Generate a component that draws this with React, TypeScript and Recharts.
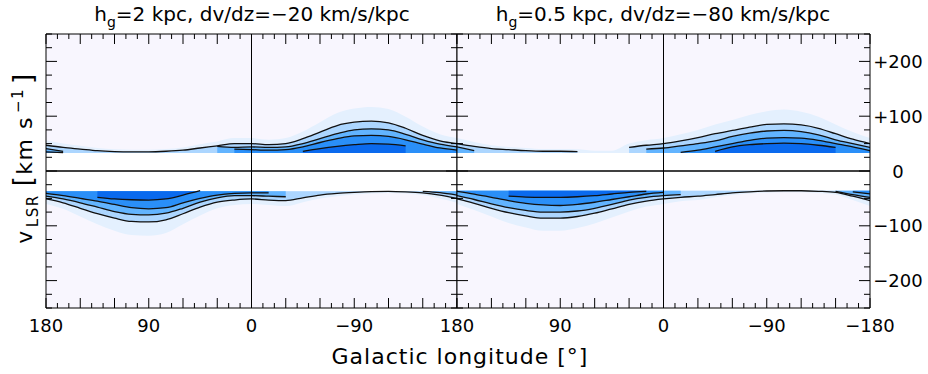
import React from 'react';
import { ComposedChart, Area, Line, XAxis, YAxis, ReferenceLine, ReferenceArea } from 'recharts';

const FONT = '"DejaVu Sans", sans-serif';

// Galactic longitude samples (deg)
const LON = [180, 165, 150, 135, 120, 105, 90, 75, 60, 45, 30, 15, 0, -15, -30, -45, -60, -75, -90, -105, -120, -135, -150, -165, -180];

// Axis ticks / labels
const X_TICKS = [180, 170, 160, 150, 140, 130, 120, 110, 100, 90, 80, 70, 60, 50, 40, 30, 20, 10, 0, -10, -20, -30, -40, -50, -60, -70, -80, -90, -100, -110, -120, -130, -140, -150, -160, -170, -180];
const X_LABELS_LEFT = [180, 90, 0, -90];
const X_LABELS_RIGHT = [180, 90, 0, -90, -180];
const Y_TICKS = [250, 225, 200, 175, 150, 125, 100, 75, 50, 25, 0, -25, -50, -75, -100, -125, -150, -175, -200, -225, -250];
const Y_LABELS = [200, 100, 0, -100, -200];

const TITLE_LEFT = { h: '2', dvdz: '−20' };
const TITLE_RIGHT = { h: '0.5', dvdz: '−80' };

// Left panel: h_g = 2 kpc, dv/dz = -20 km/s/kpc
const L_UP_EDGE = 33;
const L_UP_HALO = [56, 50, 46, 42, 39.5, 39, 39, 40, 43, 49, 54, 60, 60, 57, 60, 72, 89, 106, 114, 117, 113, 99, 81, 67, 60];
const L_UP_C1 = [47, 43, 40, 37, 35.5, 35, 35, 36, 38, 42, 46, 50, 50, 48, 50, 59, 71, 83, 89, 91, 88, 78, 65, 55, 50];
const L_UP_C2 = [41, 36, null, null, null, null, null, null, null, null, 45, 43, 44, 43, 44, 50, 59, 68, 75, 77, 75, 67, 57, 49, 44];
const L_UP_C3 = [35, 33.5, null, null, null, null, null, null, null, null, null, 40, 39, 38, 39, 44, 52, 59, 64, 65, 63, 57, 49, 42, 38];
const L_UP_C4 = [null, null, null, null, null, null, null, null, null, null, null, null, null, null, null, 36, 41, 45, 48, 50, 49, 46, null, null, null];

const L_LO_EDGE = -37;
const L_LO_HALO = [-60, -69, -83, -97, -109, -117, -118, -113, -97, -81, -68, -62, -60, -62, -64, -57, -50, -46, -43, -41, -40, -41, -44, -50, -58];
const L_LO_C1 = [-51, -58, -68, -78, -86, -92, -93, -89, -78, -66, -57, -53, -51, -53, -54, -49, -44, -41, -39, -37.5, -37, -38, -40, -44, -50];
const L_LO_C2 = [-46, -51, -58, -66, -74, -79, -80, -77, -68, -57, -49, -45, -45, -46, -47, null, null, null, null, null, null, null, -37, -39.5, -44];
const L_LO_C3 = [-41, -45, -50, -55, -61, -67, -69, -67, -58, -50, -44, -41, -40, -40, null, null, null, null, null, null, null, null, null, null, null];
const L_LO_C4 = [null, null, null, -48, -51, -52.5, -53, -51, -44, -36, null, null, null, null, null, null, null, null, null, null, null, null, null, null, null];

// Right panel: h_g = 0.5 kpc, dv/dz = -80 km/s/kpc
const R_UP_EDGE = 33;
const R_UP_HALO = [60, 53, 47, 44, 42, 40, 40, 39.5, 37, 37, 50, 56, 60, 67, 75, 85, 93, 102, 109, 112, 108, 99, 85, 71, 60];
const R_UP_C1 = [50, 45, 41, 39, 37, 36, 36, 35.5, null, null, 43, 47, 50, 55, 61, 68, 74, 80, 85, 86, 84, 78, 68, 58, 50];
const R_UP_C2 = [44, 37, null, null, null, null, null, null, null, null, null, 40, 42, 46, 50, 55, 63, 69, 73, 74, 72, 66, 57, 50, 43];
const R_UP_C3 = [null, null, null, null, null, null, null, null, null, null, null, null, null, 34, 38, 44, 50, 56, 60, 61, 60, 56, 50, 44, 37];
const R_UP_C4 = [null, null, null, null, null, null, null, null, null, null, null, null, null, null, null, 36, 44, 48, 50, 51, 50, 47, 43, null, null];

const R_LO_EDGE = -36;
const R_LO_HALO = [-60, -71, -83, -95, -103, -109, -109, -104, -96, -85, -74, -65, -60, -55, -53, -48, -44, -41, -39.5, -39, -39, -40, -43, -53, -64];
const R_LO_C1 = [-51, -59, -68, -76, -82, -86, -86, -83, -77, -69, -61, -55, -51, -48, -46, -43, -40, -38, -36.5, -36, -36, -37, -39, -46, -54];
const R_LO_C2 = [-45, -52, -60, -67, -72, -75, -75, -73, -68, -61, -53, -48, -45, -43, null, null, null, null, null, null, null, null, -37, -43, -48];
const R_LO_C3 = [-37, -42, -48, -54, -59, -62, -63, -61, -57, -52, -47, -42, -39, null, null, null, null, null, null, null, null, null, null, -38, -41.6];
const R_LO_C4 = [null, null, null, -46, -47.5, -48, -48, -47, -45, -42, -39, -37, null, null, null, null, null, null, null, null, null, null, null, null, null];

const COL_BG = '#f8f6fe';
const COL_HALO = '#e4f0fe';
const COL_B1 = '#acd6ff';
const COL_B2 = '#62b4ff';
const COL_B3 = '#2a8ff8';
const COL_B4 = '#0a6aee';

type Half = { edge: number; halo: number[]; c: (number | null)[][] };

function buildRows(up: Half, lo: Half) {
  return LON.map((l, i) => {
    const row: any = { l };
    row.uh = [up.edge, up.halo[i]];
    row.lh = [lo.halo[i], lo.edge];
    for (let k = 0; k < 4; k++) {
      const u = up.c[k][i];
      const d = lo.c[k][i];
      row['ub' + k] = u == null ? null : [up.edge, u];
      row['lb' + k] = d == null ? null : [d, lo.edge];
      row['uc' + k] = u;
      row['lc' + k] = d;
    }
    return row;
  });
}

const LEFT_ROWS = buildRows(
  { edge: L_UP_EDGE, halo: L_UP_HALO, c: [L_UP_C1, L_UP_C2, L_UP_C3, L_UP_C4] },
  { edge: L_LO_EDGE, halo: L_LO_HALO, c: [L_LO_C1, L_LO_C2, L_LO_C3, L_LO_C4] }
);
const RIGHT_ROWS = buildRows(
  { edge: R_UP_EDGE, halo: R_UP_HALO, c: [R_UP_C1, R_UP_C2, R_UP_C3, R_UP_C4] },
  { edge: R_LO_EDGE, halo: R_LO_HALO, c: [R_LO_C1, R_LO_C2, R_LO_C3, R_LO_C4] }
);

const fmtX = (v: number) => (v < 0 ? '−' + -v : String(v));
const fmtY = (v: number) => (v > 0 ? '+' + v : v < 0 ? '−' + -v : '0');

function makeXTick(side: 'bottom' | 'top', labels: number[]) {
  return (props: any) => {
    const { x, y, payload } = props;
    const v = payload.value;
    const len = v % 30 === 0 ? 10 : 5;
    const dir = side === 'bottom' ? -1 : 1;
    return (
      <g>
        <line x1={x} y1={y} x2={x} y2={y + dir * len} stroke="#000" strokeWidth={1} />
        {side === 'bottom' && labels.includes(v) && (
          <text x={x} y={y + 24} textAnchor="middle" fontSize={18} fontFamily={FONT} fill="#000">
            {fmtX(v)}
          </text>
        )}
      </g>
    );
  };
}

function makeYTick(side: 'left' | 'right', labels: number[]) {
  return (props: any) => {
    const { x, y, payload } = props;
    const v = payload.value;
    const len = v % 100 === 0 ? 11 : 6;
    const dir = side === 'left' ? 1 : -1;
    return (
      <g>
        <line x1={x} y1={y} x2={x + dir * len} y2={y} stroke="#000" strokeWidth={1} />
        {side === 'right' && labels.includes(v) && (
          <text x={x + 28} y={y + 6.5} textAnchor="middle" fontSize={18} fontFamily={FONT} fill="#000">
            {fmtY(v)}
          </text>
        )}
      </g>
    );
  };
}

const AX = 20;

function Panel(props: { rows: any[]; width: number; margin: any; xLabels: number[]; yLabels: number[]; loEdge: number; upEdge: number }) {
  const { rows, width, margin, xLabels, yLabels, loEdge, upEdge } = props;
  const ax = { xAxisId: 'b', yAxisId: 'l' };
  const bands = [
    { key: 'h', fill: COL_HALO },
    { key: 'b0', fill: COL_B1 },
    { key: 'b1', fill: COL_B2 },
    { key: 'b2', fill: COL_B3 },
    { key: 'b3', fill: COL_B4 },
  ];
  return (
    <ComposedChart width={width} height={374} data={rows} margin={margin}>
      <ReferenceArea {...ax} x1={-180} x2={180} y1={-250} y2={250} fill={COL_BG} fillOpacity={1} stroke="none" />
      <ReferenceArea {...ax} x1={-180} x2={180} y1={loEdge} y2={upEdge} fill="#ffffff" fillOpacity={1} stroke="none" />
      {bands.map((b) => (
        <Area key={'u' + b.key} {...ax} type="monotone" dataKey={'u' + b.key} stroke="none" fill={b.fill} fillOpacity={1} isAnimationActive={false} connectNulls={false} dot={false} activeDot={false} />
      ))}
      {bands.map((b) => (
        <Area key={'l' + b.key} {...ax} type="monotone" dataKey={'l' + b.key} stroke="none" fill={b.fill} fillOpacity={1} isAnimationActive={false} connectNulls={false} dot={false} activeDot={false} />
      ))}
      {[0, 1, 2, 3].map((k) => (
        <Line key={'uc' + k} {...ax} type="monotone" dataKey={'uc' + k} stroke="#111" strokeWidth={1.3} dot={false} activeDot={false} isAnimationActive={false} connectNulls={false} />
      ))}
      {[0, 1, 2, 3].map((k) => (
        <Line key={'lc' + k} {...ax} type="monotone" dataKey={'lc' + k} stroke="#111" strokeWidth={1.3} dot={false} activeDot={false} isAnimationActive={false} connectNulls={false} />
      ))}
      <ReferenceLine {...ax} y={0} stroke="#000" strokeWidth={1.5} />
      <ReferenceLine {...ax} x={0} stroke="#000" strokeWidth={1} />
      <XAxis xAxisId="b" dataKey="l" type="number" domain={[-180, 180]} reversed allowDataOverflow ticks={X_TICKS} interval={0} tickSize={0} tickMargin={0} tickLine={false} axisLine={{ stroke: '#000' }} height={AX} tick={makeXTick('bottom', xLabels)} />
      <XAxis xAxisId="t" orientation="top" dataKey="l" type="number" domain={[-180, 180]} reversed allowDataOverflow ticks={X_TICKS} interval={0} tickSize={0} tickMargin={0} tickLine={false} axisLine={{ stroke: '#000' }} height={AX} tick={makeXTick('top', [])} />
      <YAxis yAxisId="l" type="number" domain={[-250, 250]} allowDataOverflow ticks={Y_TICKS} interval={0} tickSize={0} tickMargin={0} tickLine={false} axisLine={{ stroke: '#000' }} width={AX} tick={makeYTick('left', [])} />
      <YAxis yAxisId="r" orientation="right" type="number" domain={[-250, 250]} allowDataOverflow ticks={Y_TICKS} interval={0} tickSize={0} tickMargin={0} tickLine={false} axisLine={{ stroke: '#000' }} width={AX} tick={makeYTick('right', yLabels)} />
    </ComposedChart>
  );
}

function Title(props: { x: number; h: string; dvdz: string }) {
  return (
    <text x={props.x} y={21} textAnchor="middle" fontSize={20} fontFamily={FONT} fill="#000">
      h
      <tspan dy={6} fontSize={14}>g</tspan>
      <tspan dy={-6}>{'=' + props.h + ' kpc, dv/dz=' + props.dvdz + ' km/s/kpc'}</tspan>
    </text>
  );
}

export default function App() {
  return (
    <div style={{ position: 'absolute', left: 0, top: 0, width: 928, height: 374, background: '#fff', overflow: 'hidden' }}>
      <div style={{ position: 'absolute', left: 0, top: 0 }}>
        <Panel rows={LEFT_ROWS} width={490} margin={{ top: 34 - AX, bottom: 66 - AX, left: 46 - AX, right: 13 }} xLabels={X_LABELS_LEFT} yLabels={[]} loEdge={L_LO_EDGE} upEdge={L_UP_EDGE} />
      </div>
      <div style={{ position: 'absolute', left: 420, top: 0 }}>
        <Panel rows={RIGHT_ROWS} width={528} margin={{ top: 34 - AX, bottom: 66 - AX, left: 17, right: 58 }} xLabels={X_LABELS_RIGHT} yLabels={Y_LABELS} loEdge={R_LO_EDGE} upEdge={R_UP_EDGE} />
      </div>
      <svg width={928} height={374} style={{ position: 'absolute', left: 0, top: 0, pointerEvents: 'none' }}>
        <Title x={252} h={TITLE_LEFT.h} dvdz={TITLE_LEFT.dvdz} />
        <Title x={663} h={TITLE_RIGHT.h} dvdz={TITLE_RIGHT.dvdz} />
        <text x={460} y={364} textAnchor="middle" fontSize={22} letterSpacing={1} fontFamily={FONT} fill="#000">
          Galactic longitude [°]
        </text>
        <g transform="translate(32,158) rotate(-90)">
          <text x={0} y={0} textAnchor="middle" fontSize={22} letterSpacing={1.5} fontFamily={FONT} fill="#000">
            v
            <tspan dy={6} dx={2} fontSize={15}>LSR</tspan>
            <tspan dy={-6} dx={8} fontSize={26}>[</tspan>
            <tspan>{'km s'}</tspan>
            <tspan dy={-9} dx={3} fontSize={15}>−1</tspan>
            <tspan dy={9} dx={4} fontSize={26}>]</tspan>
          </text>
        </g>
      </svg>
    </div>
  );
}
